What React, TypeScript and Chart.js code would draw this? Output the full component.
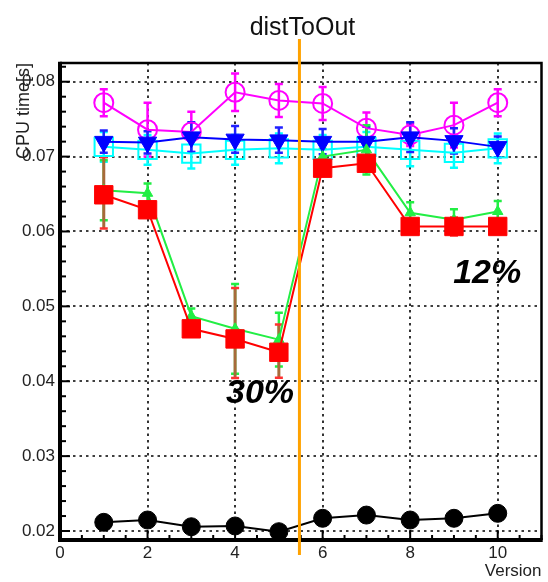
import React, { useEffect, useRef } from 'react';
import { Chart, registerables } from 'chart.js';

Chart.register(...registerables);

const FONT = "'Liberation Sans', Arial, Helvetica, sans-serif";

const versions = [1, 2, 3, 4, 5, 6, 7, 8, 9, 10];

const blackVals = [0.02116, 0.02147, 0.02057, 0.02067, 0.01991, 0.0217, 0.02213, 0.02147, 0.0217, 0.02236];
const blackErr = [0.0003, 0.0003, 0.0003, 0.0003, 0.0003, 0.0003, 0.0003, 0.0003, 0.0003, 0.0003];

const redVals = [0.0649, 0.0629, 0.047, 0.04565, 0.04387, 0.06845, 0.06911, 0.06067, 0.06067, 0.06067];
const redErrHi = [0.005, 0.0008, 0.0008, 0.0068, 0.0037, 0.0008, 0.0008, 0.0006, 0.0012, 0.0006];
const redErrLo = [0.0045, 0.0008, 0.0008, 0.0052, 0.0034, 0.0008, 0.0008, 0.0006, 0.0012, 0.0006];

const greenVals = [0.0655, 0.0651, 0.0487, 0.047, 0.04556, 0.07, 0.0709, 0.0625, 0.06156, 0.06267];
const greenErr = [0.004, 0.0013, 0.001, 0.006, 0.0036, 0.001, 0.0033, 0.0014, 0.0014, 0.0014];

const cyanVals = [0.0713, 0.0709, 0.0704, 0.0709, 0.0711, 0.0709, 0.0713, 0.0709, 0.0705, 0.0711];
const cyanErr = [0.002, 0.002, 0.002, 0.002, 0.002, 0.002, 0.002, 0.0022, 0.002, 0.002];

const blueVals = [0.072, 0.0719, 0.0726, 0.0723, 0.0722, 0.072, 0.072, 0.0726, 0.0721, 0.0713];
const blueErr = [0.0015, 0.0015, 0.002, 0.0018, 0.0017, 0.0017, 0.002, 0.002, 0.0017, 0.0014];

const magentaVals = [0.0772, 0.0736, 0.0733, 0.0786, 0.0775, 0.0771, 0.0738, 0.0729, 0.0742, 0.0772];
const magentaErr = [0.0018, 0.0036, 0.0027, 0.0025, 0.0022, 0.0022, 0.0021, 0.0015, 0.003, 0.0018];

const xTicks = [0, 2, 4, 6, 8, 10];
const xTickLabels = ['0', '2', '4', '6', '8', '10'];
const yTicks = [0.02, 0.03, 0.04, 0.05, 0.06, 0.07, 0.08];
const yTickLabels = ['0.02', '0.03', '0.04', '0.05', '0.06', '0.07', '0.08'];

const X_MIN = 0;
const X_MAX = 11;
const Y_MIN = 0.0188;
const Y_MAX = 0.0825;
const X_MINOR = 0.5;
const Y_MINOR = 0.002;

const CUT_X = 5.47;
const TITLE = 'distToOut';
const annotations = [
  { text: '30%', x: 4.57, y: 0.0371 },
  { text: '12%', x: 9.76, y: 0.0531 },
];

const gridPlugin = {
  id: 'rootGrid',
  beforeDatasetsDraw(chart: any) {
    const { ctx, chartArea } = chart;
    const xs = chart.scales.x;
    const ys = chart.scales.y;
    ctx.save();
    ctx.strokeStyle = '#000';
    ctx.lineWidth = 1.6;
    ctx.setLineDash([2.5, 4]);
    xs.ticks.forEach((t: any) => {
      if (t.value <= X_MIN) return;
      const x = Math.round(xs.getPixelForValue(t.value));
      ctx.beginPath();
      ctx.moveTo(x, chartArea.top);
      ctx.lineTo(x, chartArea.bottom);
      ctx.stroke();
    });
    ys.ticks.forEach((t: any) => {
      const y = Math.round(ys.getPixelForValue(t.value));
      ctx.beginPath();
      ctx.moveTo(chartArea.left, y);
      ctx.lineTo(chartArea.right, y);
      ctx.stroke();
    });
    ctx.restore();
  },
};

const errorBarPlugin = {
  id: 'errBars',
  beforeDatasetsDraw(chart: any) {
    const { ctx } = chart;
    const xs = chart.scales.x;
    const ys = chart.scales.y;
    ctx.save();
    const list = [...chart.data.datasets].sort((a: any, b: any) => b.order - a.order);
    list.forEach((ds: any) => {
      if (!ds.errHi) return;
      ds.data.forEach((p: any, i: number) => {
        const x = xs.getPixelForValue(p.x);
        const yt = ys.getPixelForValue(p.y + ds.errHi[i]);
        const yb = ys.getPixelForValue(p.y - ds.errLo[i]);
        ctx.strokeStyle = ds.errColor;
        ctx.lineWidth = ds.errWidth;
        ctx.beginPath();
        ctx.moveTo(x, yt);
        ctx.lineTo(x, yb);
        ctx.stroke();
        ctx.strokeStyle = ds.capColor;
        ctx.lineWidth = 2.5;
        ctx.beginPath();
        ctx.moveTo(x - 4, yt);
        ctx.lineTo(x + 4, yt);
        ctx.moveTo(x - 4, yb);
        ctx.lineTo(x + 4, yb);
        ctx.stroke();
      });
    });
    ctx.restore();
  },
};

const decorPlugin = {
  id: 'decor',
  afterDraw(chart: any) {
    const { ctx, chartArea } = chart;
    const xs = chart.scales.x;
    const ys = chart.scales.y;
    const { left, right, top, bottom } = chartArea;
    ctx.save();
    ctx.strokeStyle = '#000';
    ctx.setLineDash([]);
    ctx.lineWidth = 2.5;
    ctx.beginPath();
    ctx.moveTo(left, top);
    ctx.lineTo(right, top);
    ctx.lineTo(right, bottom);
    ctx.stroke();
    ctx.lineWidth = 4;
    ctx.beginPath();
    ctx.moveTo(left, top - 1.2);
    ctx.lineTo(left, bottom);
    ctx.lineTo(right + 1.2, bottom);
    ctx.stroke();
    ctx.lineWidth = 2;
    for (let v = X_MIN; v <= X_MAX + 1e-9; v += X_MINOR) {
      const x = xs.getPixelForValue(v);
      const major = Math.abs(v / 2 - Math.round(v / 2)) < 1e-6;
      ctx.beginPath();
      ctx.moveTo(x, bottom);
      ctx.lineTo(x, bottom - (major ? 10 : 5));
      ctx.stroke();
    }
    for (let k = -1; ; k++) {
      const v = 0.02 + k * Y_MINOR;
      if (v > Y_MAX) break;
      if (v < Y_MIN) continue;
      const y = ys.getPixelForValue(v);
      const major = k % 5 === 0;
      ctx.beginPath();
      ctx.moveTo(left, y);
      ctx.lineTo(left + (major ? 10 : 6), y);
      ctx.stroke();
    }
    const cx = xs.getPixelForValue(CUT_X);
    ctx.strokeStyle = '#ffa200';
    ctx.lineWidth = 3;
    ctx.beginPath();
    ctx.moveTo(cx, top - 24);
    ctx.lineTo(cx, bottom + 15);
    ctx.stroke();
    ctx.fillStyle = '#000';
    ctx.textAlign = 'center';
    ctx.textBaseline = 'alphabetic';
    ctx.font = `italic bold 34px ${FONT}`;
    annotations.forEach((a) => {
      ctx.fillText(a.text, xs.getPixelForValue(a.x), ys.getPixelForValue(a.y));
    });
    ctx.fillStyle = '#111';
    ctx.font = `25px ${FONT}`;
    ctx.fillText(TITLE, cx + 3, top - 28);
    ctx.restore();
  },
};

const zeroPad = (a: any) => {
  a.paddingLeft = 0;
  a.paddingRight = 0;
  a.paddingTop = 0;
  a.paddingBottom = 0;
};

export default function App() {
  const ref = useRef<HTMLCanvasElement>(null);
  useEffect(() => {
    const canvas = ref.current!;
    const mk = (vals: number[]) => versions.map((v, i) => ({ x: v, y: vals[i] }));
    const chart = new Chart(canvas, {
      type: 'line',
      data: {
        datasets: [
          {
            label: 'red', data: mk(redVals), borderColor: '#ff0000', backgroundColor: '#ff0000',
            borderWidth: 2, pointStyle: 'rect', pointRadius: 13, pointBorderWidth: 1, order: 0,
            errHi: redErrHi, errLo: redErrLo, errColor: '#a86a3a', capColor: '#ff3030', errWidth: 3, clip: false,
          },
          {
            label: 'green', data: mk(greenVals), borderColor: '#22ee44', backgroundColor: '#22ee44',
            borderWidth: 2, pointStyle: 'triangle', pointRadius: 6, pointBorderWidth: 1, order: 1,
            errHi: greenErr, errLo: greenErr, errColor: '#22ee44', capColor: '#22ee44', errWidth: 2.5, clip: false,
          },
          {
            label: 'blue', data: mk(blueVals), borderColor: '#0000ff', backgroundColor: '#0000ff',
            borderWidth: 2, pointStyle: 'triangle', pointRotation: 180, pointRadius: 10.5, pointBorderWidth: 1, order: 2,
            errHi: blueErr, errLo: blueErr, errColor: '#2020ff', capColor: '#2020ff', errWidth: 2.5, clip: false,
          },
          {
            label: 'cyan', data: mk(cyanVals), borderColor: '#00ffff', backgroundColor: 'rgba(0,0,0,0)',
            borderWidth: 2, pointStyle: 'rect', pointRadius: 13, pointBorderWidth: 2, order: 3,
            errHi: cyanErr, errLo: cyanErr, errColor: '#00ffff', capColor: '#00ffff', errWidth: 2.5, clip: false,
          },
          {
            label: 'magenta', data: mk(magentaVals), borderColor: '#ff00ff', backgroundColor: 'rgba(0,0,0,0)',
            borderWidth: 2, pointStyle: 'circle', pointRadius: 9.5, pointBorderWidth: 2, order: 4,
            errHi: magentaErr, errLo: magentaErr, errColor: '#ff00ff', capColor: '#ff00ff', errWidth: 2.5, clip: false,
          },
          {
            label: 'black', data: mk(blackVals), borderColor: '#000000', backgroundColor: '#000000',
            borderWidth: 2, pointStyle: 'circle', pointRadius: 9, pointBorderWidth: 1, order: 5,
            errHi: blackErr, errLo: blackErr, errColor: '#000', capColor: '#000', errWidth: 2, clip: false,
          },
        ] as any,
      },
      options: {
        responsive: false,
        animation: false,
        devicePixelRatio: 1,
        layout: { autoPadding: false, padding: { top: 63, right: 6.5, left: 0, bottom: 0 } },
        plugins: { legend: { display: false }, tooltip: { enabled: false }, title: { display: false } },
        scales: {
          x: {
            type: 'linear', min: X_MIN, max: X_MAX,
            grid: { display: false, drawTicks: false }, border: { display: false },
            afterBuildTicks: (a: any) => { a.ticks = xTicks.map((v) => ({ value: v })); },
            afterFit: (a: any) => { a.height = 42; zeroPad(a); },
            ticks: {
              font: { family: FONT, size: 17 }, color: '#222', padding: 3, maxRotation: 0, autoSkip: false,
              callback: (_v: any, i: number) => xTickLabels[i],
            },
            title: {
              display: true, text: 'Version', align: 'end', color: '#222',
              font: { family: FONT, size: 17 }, padding: { top: 0, bottom: 0 },
            },
          },
          y: {
            type: 'linear', min: Y_MIN, max: Y_MAX,
            grid: { display: false, drawTicks: false }, border: { display: false },
            afterBuildTicks: (a: any) => { a.ticks = yTicks.map((v) => ({ value: v })); },
            afterFit: (a: any) => { a.width = 60; zeroPad(a); },
            ticks: {
              font: { family: FONT, size: 17 }, color: '#222', padding: 5, autoSkip: false,
              callback: (_v: any, i: number) => yTickLabels[i],
            },
            title: {
              display: true, text: 'CPU time[s]', align: 'end', color: '#222',
              font: { family: FONT, size: 18 }, padding: { top: 13, bottom: 0 },
            },
          },
        },
      } as any,
      plugins: [gridPlugin, errorBarPlugin, decorPlugin],
    });
    return () => chart.destroy();
  }, []);
  return (
    <div style={{ position: 'fixed', left: 0, top: 0, width: 548, height: 582, background: '#fff' }}>
      <canvas ref={ref} width={548} height={582} style={{ width: 548, height: 582, display: 'block' }} />
    </div>
  );
}
